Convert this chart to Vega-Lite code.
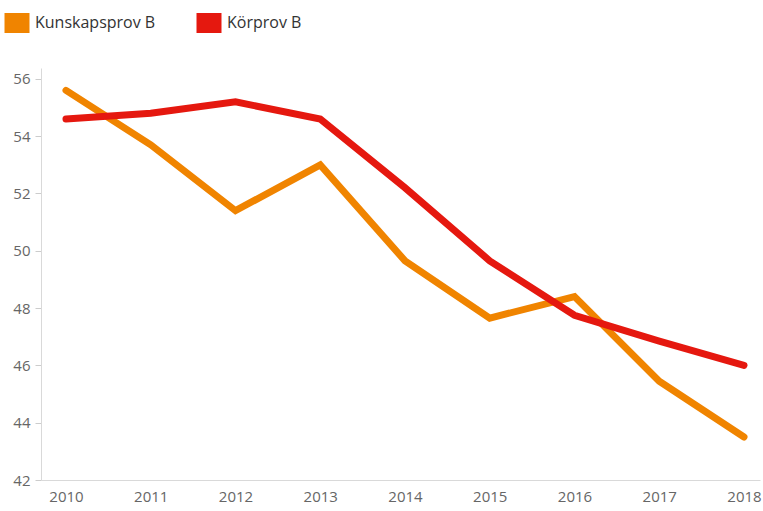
{
  "$schema": "https://vega.github.io/schema/vega-lite/v6.json",
  "autosize": "none",
  "width": 719,
  "height": 412,
  "padding": {"left": 41, "top": 68, "right": 3, "bottom": 31},
  "background": "white",
  "config": {
    "view": {"stroke": null},
    "font": "Open Sans",
    "axis": {"grid": false, "domainColor": "#d9d9d9", "tickColor": "#cccccc", "labelColor": "#666666", "labelFontSize": 15, "title": null, "labelFont": "Open Sans"}
  },
  "data": {
    "values": [
      {"year": 2010, "series": "Kunskapsprov B", "value": 55.6},
      {"year": 2011, "series": "Kunskapsprov B", "value": 53.7},
      {"year": 2012, "series": "Kunskapsprov B", "value": 51.4},
      {"year": 2013, "series": "Kunskapsprov B", "value": 53.0},
      {"year": 2014, "series": "Kunskapsprov B", "value": 49.65},
      {"year": 2015, "series": "Kunskapsprov B", "value": 47.65},
      {"year": 2016, "series": "Kunskapsprov B", "value": 48.4},
      {"year": 2017, "series": "Kunskapsprov B", "value": 45.45},
      {"year": 2018, "series": "Kunskapsprov B", "value": 43.5},
      {"year": 2010, "series": "Körprov B", "value": 54.6},
      {"year": 2011, "series": "Körprov B", "value": 54.8},
      {"year": 2012, "series": "Körprov B", "value": 55.2},
      {"year": 2013, "series": "Körprov B", "value": 54.6},
      {"year": 2014, "series": "Körprov B", "value": 52.2},
      {"year": 2015, "series": "Körprov B", "value": 49.65},
      {"year": 2016, "series": "Körprov B", "value": 47.75},
      {"year": 2017, "series": "Körprov B", "value": 46.85},
      {"year": 2018, "series": "Körprov B", "value": 46.0}
    ]
  },
  "mark": {"type": "line", "strokeWidth": 7, "strokeCap": "round", "strokeJoin": "miter"},
  "encoding": {
    "x": {
      "field": "year", "type": "quantitative",
      "scale": {"domain": [2009.705, 2018.189], "nice": false, "zero": false},
      "axis": {"values": [2010, 2011, 2012, 2013, 2014, 2015, 2016, 2017, 2018], "format": "d", "ticks": false, "labelPadding": 9, "labelFlush": false}
    },
    "y": {
      "field": "value", "type": "quantitative",
      "scale": {"domain": [42, 56.38], "nice": false, "zero": false},
      "axis": {"values": [42, 44, 46, 48, 50, 52, 54, 56], "tickSize": 6, "labelPadding": 5}
    },
    "color": {
      "field": "series", "type": "nominal",
      "scale": {"domain": ["Kunskapsprov B", "Körprov B"], "range": ["#F08400", "#E5180F"]},
      "legend": {
        "title": null, "orient": "none", "direction": "horizontal",
        "legendX": -34, "legendY": -55,
        "symbolType": "M-1.25,-1L1.25,-1L1.25,1L-1.25,1Z",
        "symbolSize": 400, "symbolStrokeWidth": 0, "symbolOpacity": 1,
        "labelFontSize": 16, "labelColor": "#333333", "labelOffset": 8,
        "columnPadding": 40, "labelFont": "Open Sans",
        "encode": {"symbols": {"update": {"fill": {"scale": "color", "field": "value"}, "fillOpacity": {"value": 1}}}}
      }
    }
  }
}
